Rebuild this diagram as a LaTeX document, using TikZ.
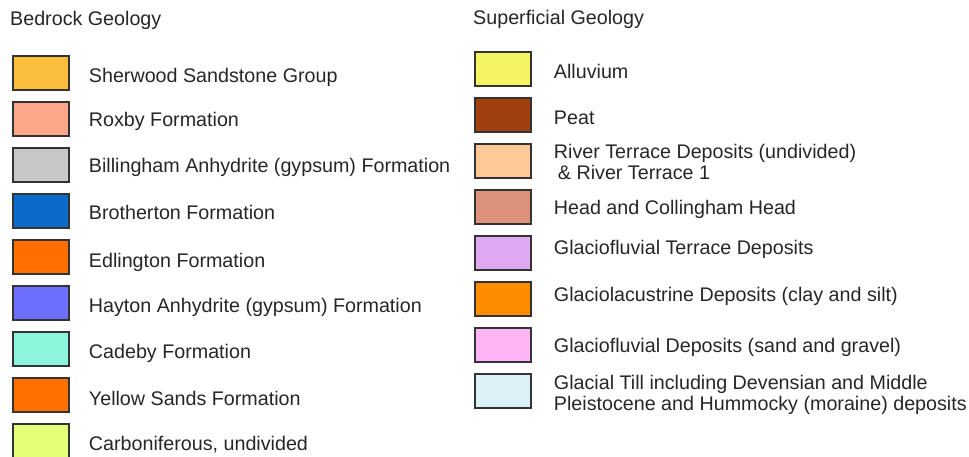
\documentclass[tikz,border=0pt]{standalone}
\usepackage{fontspec}
\setmainfont{Liberation Sans}
\usetikzlibrary{positioning}

% bedrock colours
\definecolor{sherwood}{HTML}{FBBE3C}
\definecolor{roxby}{HTML}{FCA68A}
\definecolor{billingham}{HTML}{C8C8C8}
\definecolor{brotherton}{HTML}{0A6CC8}
\definecolor{edlington}{HTML}{FF6E00}
\definecolor{hayton}{HTML}{6E6EFF}
\definecolor{cadeby}{HTML}{8CF5DC}
\definecolor{yellowsands}{HTML}{FF7000}
\definecolor{carbon}{HTML}{E6FF78}
% superficial colours
\definecolor{alluvium}{HTML}{F5F564}
\definecolor{peat}{HTML}{A0400F}
\definecolor{terrace}{HTML}{FFC896}
\definecolor{head}{HTML}{DC917A}
\definecolor{gfterrace}{HTML}{E0A8F0}
\definecolor{glacilac}{HTML}{FF8C00}
\definecolor{gfdeposit}{HTML}{FFB4F5}
\definecolor{till}{HTML}{DCF0F8}

\tikzset{
  swatch/.style={draw=black!80, line width=1.5pt, minimum width=56pt,
    minimum height=34pt, inner sep=0pt},
  entry/.style={inner sep=0pt, align=left, text=black!85,
    font=\fontsize{19.7}{20.5}\selectfont},
  heading/.style={anchor=base west, inner sep=0pt, text=black!85,
    font=\fontsize{19.7}{20.5}\selectfont}
}

\begin{document}
\begin{tikzpicture}[x=1pt, y=-1pt]
    \useasboundingbox (0,0) rectangle (969,456);

    % --- Headings ---
    \node[heading] (bedrock) at (10,25) {Bedrock Geology};
    \node[heading] (superficial) at (473,24) {Superficial Geology};

    % --- Bedrock column (colour / label / baseline drop) ---
    \foreach \col/\txt/\dy [count=\i from 0] in {
        sherwood/Sherwood Sandstone Group/9.5,
        roxby/Roxby Formation/7.5,
        billingham/Billingham Anhydrite (gypsum) Formation/7.5,
        brotherton/Brotherton Formation/8,
        edlington/Edlington Formation/10,
        hayton/Hayton Anhydrite (gypsum) Formation/9,
        cadeby/Cadeby Formation/9,
        yellowsands/Yellow Sands Formation/10.5,
        carbon/{Carboniferous, undivided}/9} {
      \node[swatch, fill=\col] (b\i) at (41, 73+46*\i) {};
      \node[entry, right=19pt of b\i.east, anchor=base west, yshift=-\dy pt] (b\i t) {\txt};
    }

    % --- Superficial column (two-line labels: drop of last line) ---
    \foreach \col/\txt/\dy [count=\i from 0] in {
        alluvium/Alluvium/9,
        peat/Peat/9,
        terrace/{River Terrace Deposits (undivided)\\\hspace{4pt}\& River Terrace 1}/18,
        head/Head and Collingham Head/7,
        gfterrace/Glaciofluvial Terrace Deposits/1,
        glacilac/Glaciolacustrine Deposits (clay and silt)/2,
        gfdeposit/Glaciofluvial Deposits (sand and gravel)/7,
        till/{Glacial Till including Devensian and Middle\\Pleistocene and Hummocky (moraine) deposits}/19} {
      \node[swatch, fill=\col] (s\i) at (503, 69+46*\i) {};
      \node[entry, right=22pt of s\i.east, anchor=base west, yshift=-\dy pt] (s\i t) {\txt};
    }
\end{tikzpicture}
\end{document}
